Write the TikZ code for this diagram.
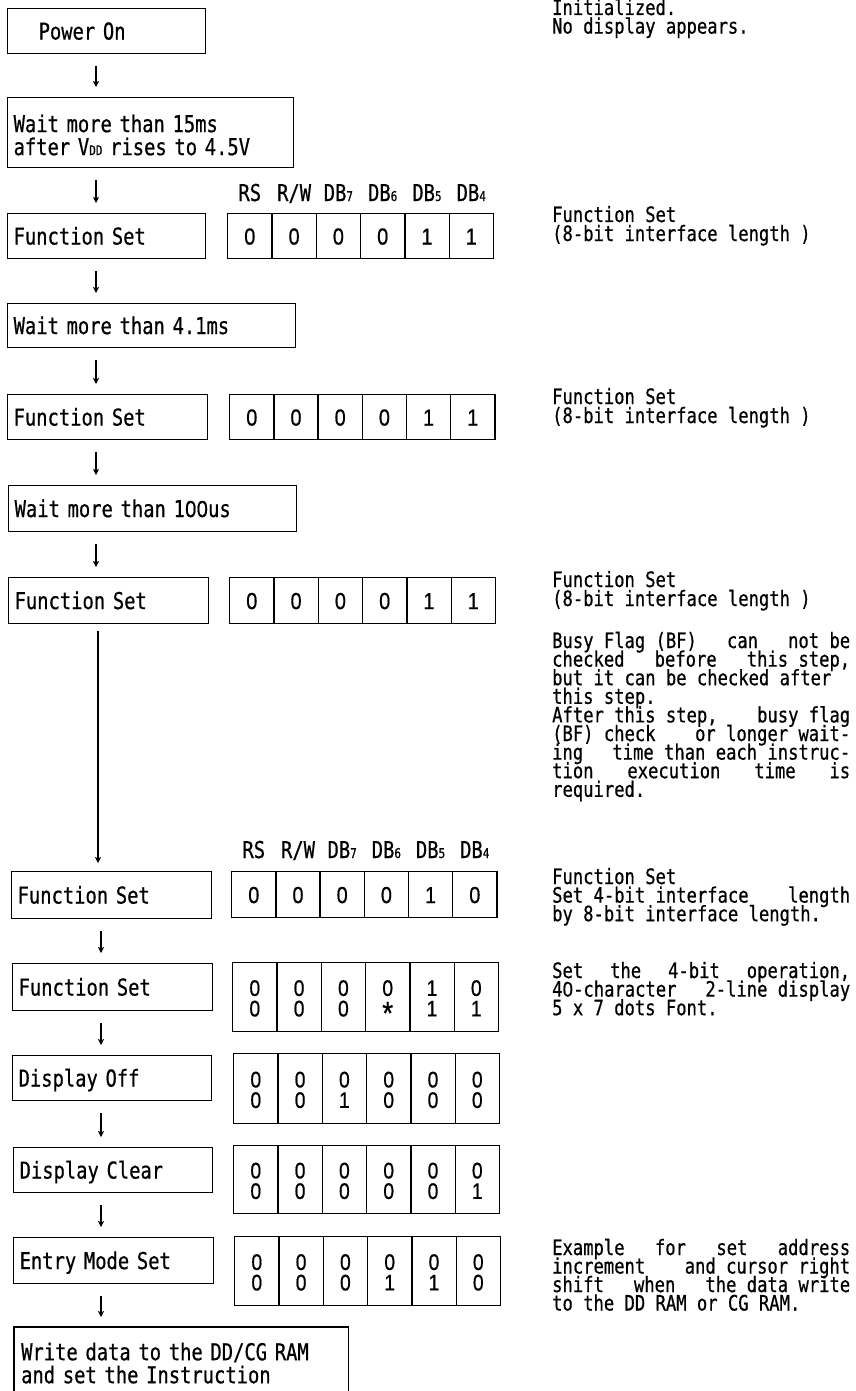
\documentclass[tikz,border=0pt]{standalone}
\usepackage{fontspec}
\newfontfamily\gfont[FakeStretch=0.81,FakeBold=0.6]{DejaVu Sans Mono}
\newfontfamily\dfont[FakeStretch=0.86,FakeBold=0.6]{Liberation Sans}
\usetikzlibrary{arrows.meta}
\newcommand\bfnt{\gfont\fontsize{23.2}{23}\selectfont}
\newcommand\dfnt{\dfont\fontsize{23.2}{23}\selectfont}
\newcommand\cfnt{\dfont\fontsize{22.5}{20.5}\selectfont}
\newcommand\rfnt{\gfont\fontsize{21.2}{18.6}\selectfont}
\newcommand\sml[1]{{\fontsize{13.5}{13.5}\selectfont #1}}
\newcommand\jl[1]{\makebox[298pt][s]{#1}}
\newcommand\astk{\raisebox{-8pt}{\scalebox{1.45}{*}}}
\newcommand\z{\makebox[0.5em][c]{{\dfont 0}}}
\begin{document}
\begin{tikzpicture}[x=1pt,y=-1pt,
  boxline/.style={line width=1.3pt},
  stepbox/.style={draw, boxline, anchor=north west, inner xsep=6pt, inner ysep=0pt, minimum height=45pt, align=left, font=\bfnt, text height=16.8pt, text depth=0pt},
  twobox/.style={stepbox, text height=22pt, text depth=23pt},
  cell/.style={draw, boxline, anchor=north west, inner sep=0pt, minimum width=44.3pt, minimum height=45pt, align=center, font=\dfnt, text height=16.8pt, text depth=0pt},
  cell2/.style={cell, font=\cfnt, text height=38.5pt, text depth=0pt},
  hdr/.style={font=\bfnt, inner sep=0pt, anchor=base},
  note/.style={font=\rfnt, anchor=base west, inner sep=0pt, text height=14pt, text depth=4pt},
  arr/.style={line width=1.2pt, -{Stealth[length=6pt,width=6pt,inset=1.5pt]}, shorten <=12pt, shorten >=10pt}
]
\useasboundingbox (0,0) rectangle (855,1391);
\fill[white] (0,0) rectangle (855,1391);
\clip (0,0) rectangle (855,1391);
\coordinate (au) at (96,0);
\coordinate (am) at (98,0);
\coordinate (al) at (101,0);

% ---- left column boxes ----
\node[stepbox, text width=186pt] (pon) at (7,8) {\hspace*{25pt}Power On};
\node[twobox, text width=274pt, minimum height=70pt] (w15) at (7,97) {Wait more than 15ms\\after V\sml{DD} rises to 4.5V};
\node[stepbox, text width=186pt] (fs1) at (7,213) {Function Set};
\node[stepbox, text width=276pt, minimum height=44pt] (w41) at (7,303) {Wait more than 4.1ms};
\node[stepbox, text width=188pt] (fs2) at (7,394) {Function Set};
\node[stepbox, text width=276pt, minimum height=46pt] (w100) at (8,485) {Wait more than 1\z\z us};
\node[stepbox, text width=188pt, minimum height=46pt] (fs3) at (8,577) {Function Set};
\node[stepbox, text width=188pt, minimum height=47pt] (fs4) at (11,871) {Function Set};
\node[stepbox, text width=188pt, minimum height=47pt] (fs5) at (12,963) {Function Set};
\node[stepbox, text width=187pt] (doff) at (12,1055) {Display Off};
\node[stepbox, text width=187pt] (dclr) at (13,1147) {Display Clear};
\node[stepbox, text width=188pt, minimum height=46pt] (ent) at (13,1237) {Entry Mode Set};
\node[font=\bfnt, anchor=north west, inner xsep=7pt, inner ysep=0pt, text width=320pt, align=left, text height=33pt, text depth=23pt] (wr) at (14,1327) {Write data to the DD/CG RAM\\and set the Instruction};
\draw[boxline] ([yshift=-90pt]wr.north west) -- (wr.north west) -- (wr.north east) -- ([yshift=-90pt]wr.north east);

% ---- arrows ----
\draw[arr] (pon.south -| au) -- (w15.north -| au);
\draw[arr] (w15.south -| au) -- (fs1.north -| au);
\draw[arr] (fs1.south -| au) -- (w41.north -| au);
\draw[arr] (w41.south -| au) -- (fs2.north -| au);
\draw[arr] (fs2.south -| au) -- (w100.north -| au);
\draw[arr] (w100.south -| au) -- (fs3.north -| au);
\draw[arr, shorten <=7pt, shorten >=8pt] (fs3.south -| am) -- (fs4.north -| am);
\draw[arr] (fs4.south -| al) -- (fs5.north -| al);
\draw[arr] (fs5.south -| al) -- (doff.north -| al);
\draw[arr] (doff.south -| al) -- (dclr.north -| al);
\draw[arr] (dclr.south -| al) -- (ent.north -| al);
\draw[arr] (ent.south -| al) -- (wr.north -| al);

% ---- bit cells ----
\foreach \d [count=\i] in {0,0,0,0,1,1}
  \node[cell] (ca\i) at ({227+44.3*(\i-1)},213) {\d};
\foreach \d [count=\i] in {0,0,0,0,1,1}
  \node[cell] (cb\i) at ({229+44.2*(\i-1)},394) {\d};
\foreach \d [count=\i] in {0,0,0,0,1,1}
  \node[cell, minimum height=46pt] (cc\i) at ({229+44.3*(\i-1)},577) {\d};
\foreach \d [count=\i] in {0,0,0,0,1,0}
  \node[cell, minimum height=46pt] (cd\i) at ({231+44.2*(\i-1)},871) {\d};
\foreach \a/\b [count=\i] in {0/0,0/0,0/0,0/\astk,1/1,0/1}
  \node[cell2, minimum height=69pt] (ce\i) at ({232+44.3*(\i-1)},962) {\a\\\b};
\foreach \a/\b [count=\i] in {0/0,0/0,0/1,0/0,0/0,0/0}
  \node[cell2, minimum height=70pt] (cf\i) at ({233+44.3*(\i-1)},1053) {\a\\\b};
\foreach \a/\b [count=\i] in {0/0,0/0,0/0,0/0,0/0,0/1}
  \node[cell2, minimum height=68pt] (cg\i) at ({233+44.3*(\i-1)},1145) {\a\\\b};
\foreach \a/\b [count=\i] in {0/0,0/0,0/0,0/1,0/1,0/0}
  \node[cell2, minimum height=69pt] (ch\i) at ({234+44.3*(\i-1)},1236) {\a\\\b};

% ---- headers ----
\foreach \h [count=\i] in {RS,R/W,DB\sml{7},DB\sml{6},DB\sml{5},DB\sml{4}}
  \node[hdr] (ha\i) at ([yshift=12pt]ca\i.north) {\h};
\foreach \h [count=\i] in {RS,R/W,DB\sml{7},DB\sml{6},DB\sml{5},DB\sml{4}}
  \node[hdr] (hb\i) at ([yshift=13pt]cd\i.north) {\h};

% ---- right column notes ----
\node[note] (n1) at (552,15) {Initialized.};
\node[note] (n2) at (552,33.6) {No display appears.};
\node[note] (n3) at (552,222) {Function Set};
\node[note] (n4) at (552,241) {(8-bit interface length )};
\node[note] (n5) at (552,404) {Function Set};
\node[note] (n6) at (552,423) {(8-bit interface length )};
\node[note] (n7) at (552,587) {Function Set};
\node[note] (n8) at (552,606) {(8-bit interface length )};
\foreach \t [count=\k from 0] in {
  {\jl{Busy Flag (BF)\hfill{} can\hfill{} not be}},
  {\jl{checked\hfill{} before\hfill{} this step,}},
  {but it can be checked after},
  {this step.},
  {\jl{After this step,\hfill{} busy flag}},
  {\jl{(BF) check\hfill{} or longer wait-}},
  {\jl{ing\hfill{} time than each instruc-}},
  {\jl{tion\hfill{} execution\hfill{} time\hfill{} is}},
  {required.}}
  \node[note] (p\k) at (552,{648+18.6*\k}) {\t};
\foreach \t [count=\k from 0] in {
  {Function Set},
  {\jl{Set 4-bit interface\hfill{} length}},
  {by 8-bit interface length.}}
  \node[note] (q\k) at (552,{884+18.6*\k}) {\t};
\foreach \t [count=\k from 0] in {
  {\jl{Set\hfill{} the\hfill{} 4-bit\hfill{} operation,}},
  {\jl{4\z-character\hfill{} 2-line display}},
  {5 x 7 dots Font.}}
  \node[note] (r\k) at (552,{978+18.6*\k}) {\t};
\foreach \t [count=\k from 0] in {
  {\jl{Example\hfill{} for\hfill{} set\hfill{} address}},
  {\jl{increment\hfill{} and cursor right}},
  {\jl{shift\hfill{} when\hfill{} the data write}},
  {to the DD RAM or CG RAM.}}
  \node[note] (s\k) at (552,{1255+18.5*\k}) {\t};
\end{tikzpicture}
\end{document}
